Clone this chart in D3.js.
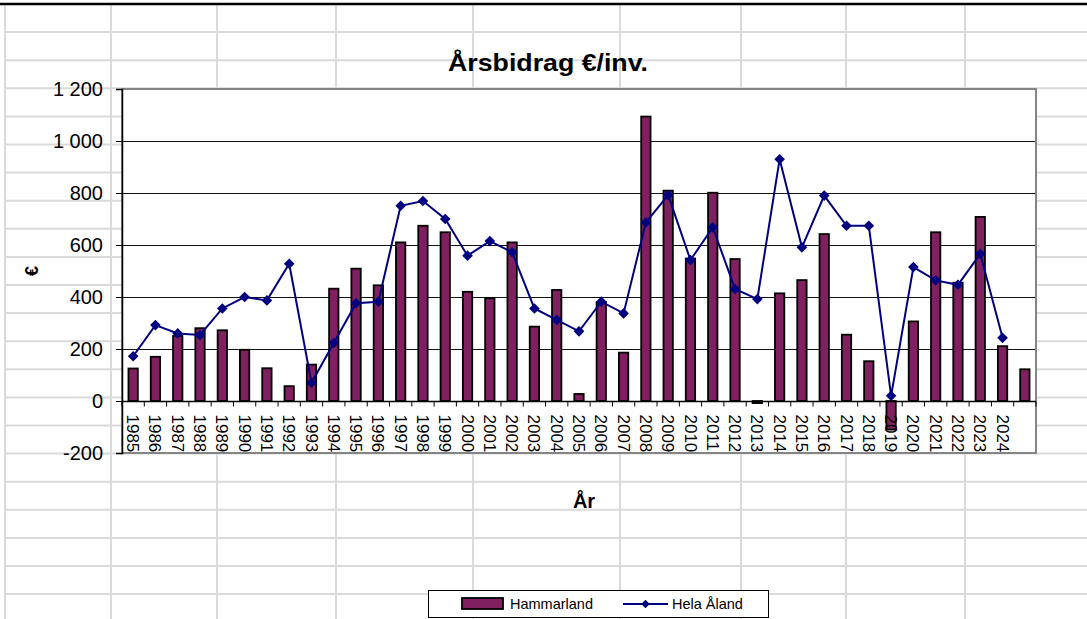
<!DOCTYPE html>
<html>
<head>
<meta charset="utf-8">
<script src="https://cdn.jsdelivr.net/npm/d3@7"></script>
<style>
  body { margin: 0; background: #fff; }
  svg { display: block; font-family: "Liberation Sans", Arial, sans-serif; }
</style>
</head>
<body>
<svg width="1087" height="619"></svg>
<script>
// categories (last one has no label in the original)
const years = ['1985','1986','1987','1988','1989','1990','1991','1992','1993','1994',
  '1995','1996','1997','1998','1999','2000','2001','2002','2003','2004',
  '2005','2006','2007','2008','2009','2010','2011','2012','2013','2014',
  '2015','2016','2017','2018','2019','2020','2021','2022','2023','2024',''];

const hammarland = [125, 170, 250, 280, 272, 197, 126, 57, 140, 432,
  509, 445, 610, 674, 649, 420, 395, 610, 286, 427,
  27, 380, 186, 1094, 809, 548, 801, 546, -8, 414,
  465, 642, 255, 153, -110, 306, 649, 455, 708, 211, 122];

const helaAland = [172, 292, 260, 254, 356, 400, 387, 528, 70, 223,
  376, 382, 751, 769, 700, 559, 615, 572, 356, 312,
  268, 382, 337, 687, 792, 542, 668, 431, 392, 930,
  591, 790, 674, 674, 20, 515, 464, 447, 566, 243, null];

const yTicks = [-200, 0, 200, 400, 600, 800, 1000, 1200];

const W = 1087, H = 619;
const barColor = '#802060';
const lineColor = '#000080';
const sheetGrid = '#dadada';

const svg = d3.select('svg');

// spreadsheet background
const colLines = [5, 111, 217, 336, 473, 620, 741, 846, 965];
const rowLines = d3.range(1, 22).map(k => 4 + k * 28.1);
const sheet = svg.append('g');
sheet.selectAll('.col').data(colLines).enter().append('line')
  .attr('x1', d => d).attr('x2', d => d).attr('y1', 4).attr('y2', H)
  .attr('stroke', sheetGrid).attr('stroke-width', 2);
sheet.selectAll('.row').data(rowLines).enter().append('line')
  .attr('x1', 5).attr('x2', W).attr('y1', d => d).attr('y2', d => d)
  .attr('stroke', sheetGrid).attr('stroke-width', 2);
sheet.append('line').attr('x1', 0).attr('x2', W).attr('y1', 4).attr('y2', 4)
  .attr('stroke', '#000').attr('stroke-width', 2.5);

// plot area
const pLeft = 122, pRight = 1036, pTop = 89, pBottom = 453;
const x = d3.scaleBand().domain(years).range([pLeft, pRight])
  .paddingInner(0.58).paddingOuter(0.29);
const y = d3.scaleLinear().domain([-200, 1200]).range([pBottom, pTop]);
const half = (x.step() - x.bandwidth()) / 2;

svg.append('rect')
  .attr('x', pLeft).attr('y', pTop).attr('width', pRight - pLeft).attr('height', pBottom - pTop)
  .attr('fill', '#fff');

// horizontal gridlines
svg.append('g').selectAll('line')
  .data(yTicks.filter(v => v > 0 && v < 1200)).enter().append('line')
  .attr('x1', pLeft).attr('x2', pRight)
  .attr('y1', d => Math.round(y(d)) + 0.5).attr('y2', d => Math.round(y(d)) + 0.5)
  .attr('stroke', '#111').attr('stroke-width', 1);

// plot border (gray)
svg.append('rect')
  .attr('x', pLeft).attr('y', pTop).attr('width', pRight - pLeft).attr('height', pBottom - pTop)
  .attr('fill', 'none').attr('stroke', '#858585').attr('stroke-width', 2);

// bars
svg.append('g').selectAll('rect')
  .data(hammarland).enter().append('rect')
  .attr('x', (d, i) => x(years[i]))
  .attr('width', x.bandwidth())
  .attr('y', d => y(Math.max(0, d)))
  .attr('height', d => Math.max(1.5, Math.abs(y(d) - y(0))))
  .attr('fill', barColor)
  .attr('stroke', '#000').attr('stroke-width', 1.8);

// y axis
const loc = d3.formatLocale({ decimal: ',', thousands: ' ', grouping: [3], currency: ['', ''], minus: '-' });
const yAxis = svg.append('g')
  .attr('transform', `translate(${pLeft},0)`)
  .call(d3.axisLeft(y).tickValues(yTicks).tickFormat(loc.format(',')).tickSize(6).tickPadding(13));
yAxis.select('.domain').attr('stroke', '#000').attr('stroke-width', 1.5);
yAxis.selectAll('.tick line').attr('stroke', '#000');
yAxis.selectAll('text').attr('font-size', 20).attr('fill', '#000')
  .attr('font-family', '"Liberation Sans", Arial, sans-serif');

// x axis at zero
const y0 = Math.round(y(0)) + 0.5;
const xAxis = svg.append('g');
xAxis.append('line').attr('x1', pLeft).attr('x2', pRight).attr('y1', y0).attr('y2', y0)
  .attr('stroke', '#000').attr('stroke-width', 1.5);
const bounds = years.map(c => x(c) - half).concat([pRight]);
xAxis.selectAll('.tk').data(bounds).enter().append('line')
  .attr('x1', d => d).attr('x2', d => d).attr('y1', y0).attr('y2', y0 + 5)
  .attr('stroke', '#000').attr('stroke-width', 1);
xAxis.selectAll('text').data(years).enter().append('text')
  .attr('transform', d => `translate(${x(d) + x.bandwidth() / 2},${y0 + 13}) rotate(90)`)
  .attr('dy', '0.35em')
  .attr('font-size', 17)
  .text(d => d);

// line series
const pts = helaAland.map((v, i) => ({ c: years[i], v })).filter(p => p.v !== null);
const lineGen = d3.line().x(p => x(p.c) + x.bandwidth() / 2).y(p => y(p.v));
svg.append('path').datum(pts)
  .attr('d', lineGen)
  .attr('fill', 'none').attr('stroke', lineColor).attr('stroke-width', 2);
svg.append('g').selectAll('path').data(pts).enter().append('path')
  .attr('d', d3.symbol(d3.symbolDiamond2, 72))
  .attr('transform', p => `translate(${x(p.c) + x.bandwidth() / 2},${y(p.v)})`)
  .attr('fill', lineColor);

// titles
svg.append('text').attr('x', 548).attr('y', 71).attr('text-anchor', 'middle')
  .attr('font-size', 24).attr('font-weight', 'bold')
  .attr('textLength', 200).attr('lengthAdjust', 'spacingAndGlyphs')
  .text('Årsbidrag €/inv.');
svg.append('text').attr('x', 584).attr('y', 508).attr('text-anchor', 'middle')
  .attr('font-size', 20).attr('font-weight', 'bold').text('År');
svg.append('text').attr('transform', 'translate(38,271) rotate(-90)')
  .attr('text-anchor', 'middle')
  .attr('font-size', 18).attr('font-weight', 'bold').text('€');

// legend
const lg = svg.append('g');
lg.append('rect').attr('x', 428.5).attr('y', 590.5).attr('width', 340).attr('height', 27)
  .attr('fill', '#fff').attr('stroke', '#000').attr('stroke-width', 1);
lg.append('rect').attr('x', 462).attr('y', 598).attr('width', 41).attr('height', 11)
  .attr('fill', barColor).attr('stroke', '#000').attr('stroke-width', 1.8);
lg.append('text').attr('x', 510).attr('y', 609).attr('font-size', 14.5).text('Hammarland');
lg.append('line').attr('x1', 623).attr('x2', 668).attr('y1', 604).attr('y2', 604)
  .attr('stroke', lineColor).attr('stroke-width', 2);
lg.append('path').attr('d', d3.symbol(d3.symbolDiamond2, 45))
  .attr('transform', 'translate(645.5,604)').attr('fill', lineColor);
lg.append('text').attr('x', 672).attr('y', 609).attr('font-size', 14.5).text('Hela Åland');
</script>
</body>
</html>
